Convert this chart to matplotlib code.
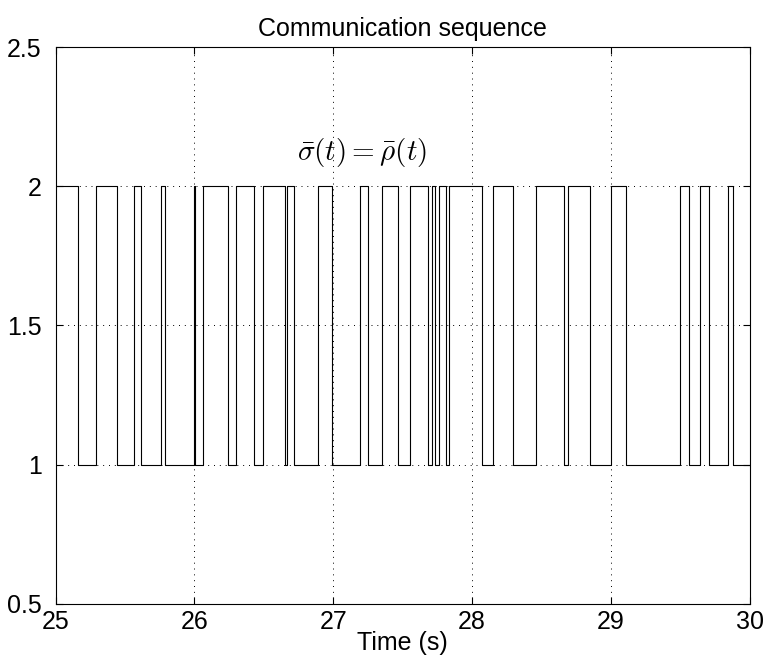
import numpy as np
import matplotlib
matplotlib.use('Agg')
import matplotlib.pyplot as plt

# switching instants (s) and the mode held after each one
t_switch = [25.0, 25.164, 25.294, 25.443, 25.568, 25.616, 25.760, 25.789, 25.995,
            26.003, 26.063, 26.245, 26.298, 26.432, 26.495, 26.653, 26.668, 26.720,
            26.893, 26.994, 27.192, 27.254, 27.350, 27.470, 27.556, 27.686, 27.715,
            27.734, 27.763, 27.816, 27.835, 28.075, 28.152, 28.296, 28.464, 28.661,
            28.694, 28.853, 29.000, 29.110, 29.497, 29.564, 29.643, 29.708, 29.843,
            29.879, 30.0]
mode = [2, 1, 2, 1, 2, 1, 2, 1, 2,
        1, 2, 1, 2, 1, 2, 1, 2, 1,
        2, 1, 2, 1, 2, 1, 2, 1, 2,
        1, 2, 1, 2, 1, 2, 1, 2, 1,
        2, 1, 2, 1, 2, 1, 2, 1, 2,
        1, 1]

xticks = [25, 26, 27, 28, 29, 30]
yticks = [0.5, 1, 1.5, 2, 2.5]
ytick_labels = ['0.5', '1', '1.5', '2', '2.5']

plt.rcParams['font.family'] = ['Liberation Sans', 'DejaVu Sans']
plt.rcParams['mathtext.fontset'] = 'cm'

fig = plt.figure(figsize=(7.68, 6.67), dpi=100)
ax = fig.add_axes([0.0723, 0.0945, 0.9037, 0.835])

ax.step(t_switch, mode, where='post', color='black', linewidth=0.8)

ax.set_xlim(25, 30)
ax.set_ylim(0.5, 2.5)
ax.set_xticks(xticks)
ax.set_yticks(yticks)
ax.set_yticklabels(ytick_labels)
ax.tick_params(direction='in', top=True, right=True, labelsize=18, length=5)
ax.tick_params(axis='x', pad=4)
ax.tick_params(axis='y', pad=10)
ax.grid(True, linestyle=(0, (1, 5)), color='black', linewidth=0.7)
for s in ax.spines.values():
    s.set_linewidth(0.8)

ax.set_title('Communication sequence', fontsize=18, pad=8)
ax.set_xlabel('Time (s)', fontsize=18, labelpad=-2)
ax.text(0.442, 0.81, r'$\bar{\sigma}(t) = \bar{\rho}(t)$', transform=ax.transAxes,
        ha='center', va='center', fontsize=21)

fig.savefig('out.png', dpi=100)
